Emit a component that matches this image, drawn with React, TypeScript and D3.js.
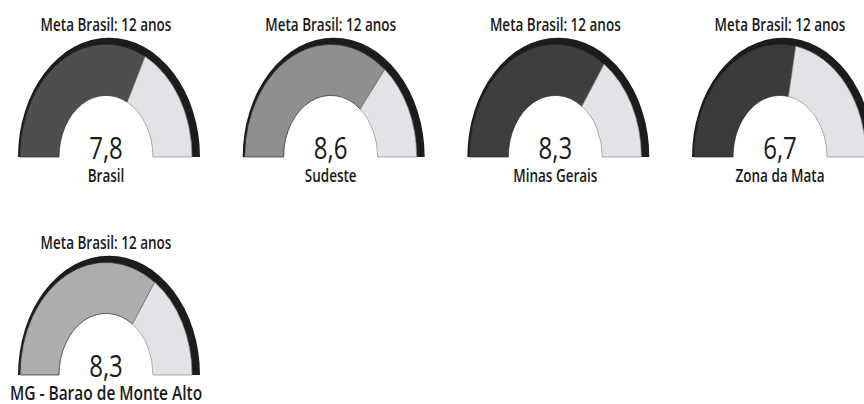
import { useMemo } from "react";
import * as d3 from "d3";

const width = 864;
const height = 404;

const regions = ["Brasil", "Sudeste", "Minas Gerais", "Zona da Mata", "MG - Barao de Monte Alto"];
const values = [7.8, 8.6, 8.3, 6.7, 8.3];
const goal = 12;
const goalLabel = "Meta Brasil: 12 anos";

// styles, one per gauge
const fills = ["#4e4e4e", "#8f8f8f", "#3e3e3e", "#3b3b3b", "#adadad"];
const labelSizes = [13.5, 13.5, 13.5, 13.5, 15.5];
const restFill = "#e4e2e7";
const rimFill = "#1c1c1c";

const OUTER = 91;
const INNER = 47;
const RIM = 5;
const SHIFT = 3;
const STRETCH = 1.31; // the scan is taller than wide

const ptBR = d3.formatLocale({ decimal: ",", thousands: ".", grouping: [3], currency: ["R$", ""] });
const fmt = ptBR.format(".1f");

const Gauge = ({ value, label, fill, labelSize }) => {
  const angle = d3.scaleLinear().domain([0, goal]).range([-Math.PI / 2, Math.PI / 2]);

  const arcs = useMemo(() => {
    const band = d3.arc().innerRadius(INNER).outerRadius(OUTER - RIM);
    const rim = d3.arc().innerRadius(60).outerRadius(OUTER);
    return {
      rim: rim({ startAngle: angle(0), endAngle: angle(goal) }),
      done: band({ startAngle: angle(0), endAngle: angle(value) }),
      rest: band({ startAngle: angle(value), endAngle: angle(goal) }),
    };
  }, [value]);

  return (
    <g transform={`scale(1, ${STRETCH})`}>
      <path d={arcs.rim} fill={rimFill} transform={`translate(${SHIFT}, 0)`} />
      <path d={arcs.done} fill={fill} stroke="#2a2a2a" strokeWidth={0.7} vectorEffect="non-scaling-stroke" />
      <path d={arcs.rest} fill={restFill} stroke="#8a8a8a" strokeWidth={0.7} vectorEffect="non-scaling-stroke" />
      <text y={-96} textAnchor="middle" fontSize={13.5} fontWeight={600} fill="#1a1a1a">
        {goalLabel}
      </text>
      <text y={1.5} textAnchor="middle" fontSize={24} fill="#1a1a1a">
        {fmt(value)}
      </text>
      <text y={19.3} textAnchor="middle" fontSize={labelSize} fontWeight={600} fill="#1a1a1a">
        {label}
      </text>
    </g>
  );
};

export default function App() {
  const x = d3.scaleLinear().domain([0, 3]).range([106, 780]);
  const y = d3.scaleLinear().domain([0, 1]).range([157, 375]);

  return (
    <svg
      width={width}
      height={height}
      style={{ position: "absolute", left: 0, top: 0, display: "block", background: "#ffffff" }}
      fontFamily="'Open Sans', sans-serif"
    >
      <rect width={width} height={height} fill="#ffffff" />
      {regions.map((r, i) => (
        <g key={r} transform={`translate(${x(i % 4)}, ${y(Math.floor(i / 4))})`}>
          <Gauge value={values[i]} label={r} fill={fills[i]} labelSize={labelSizes[i]} />
        </g>
      ))}
    </svg>
  );
}
